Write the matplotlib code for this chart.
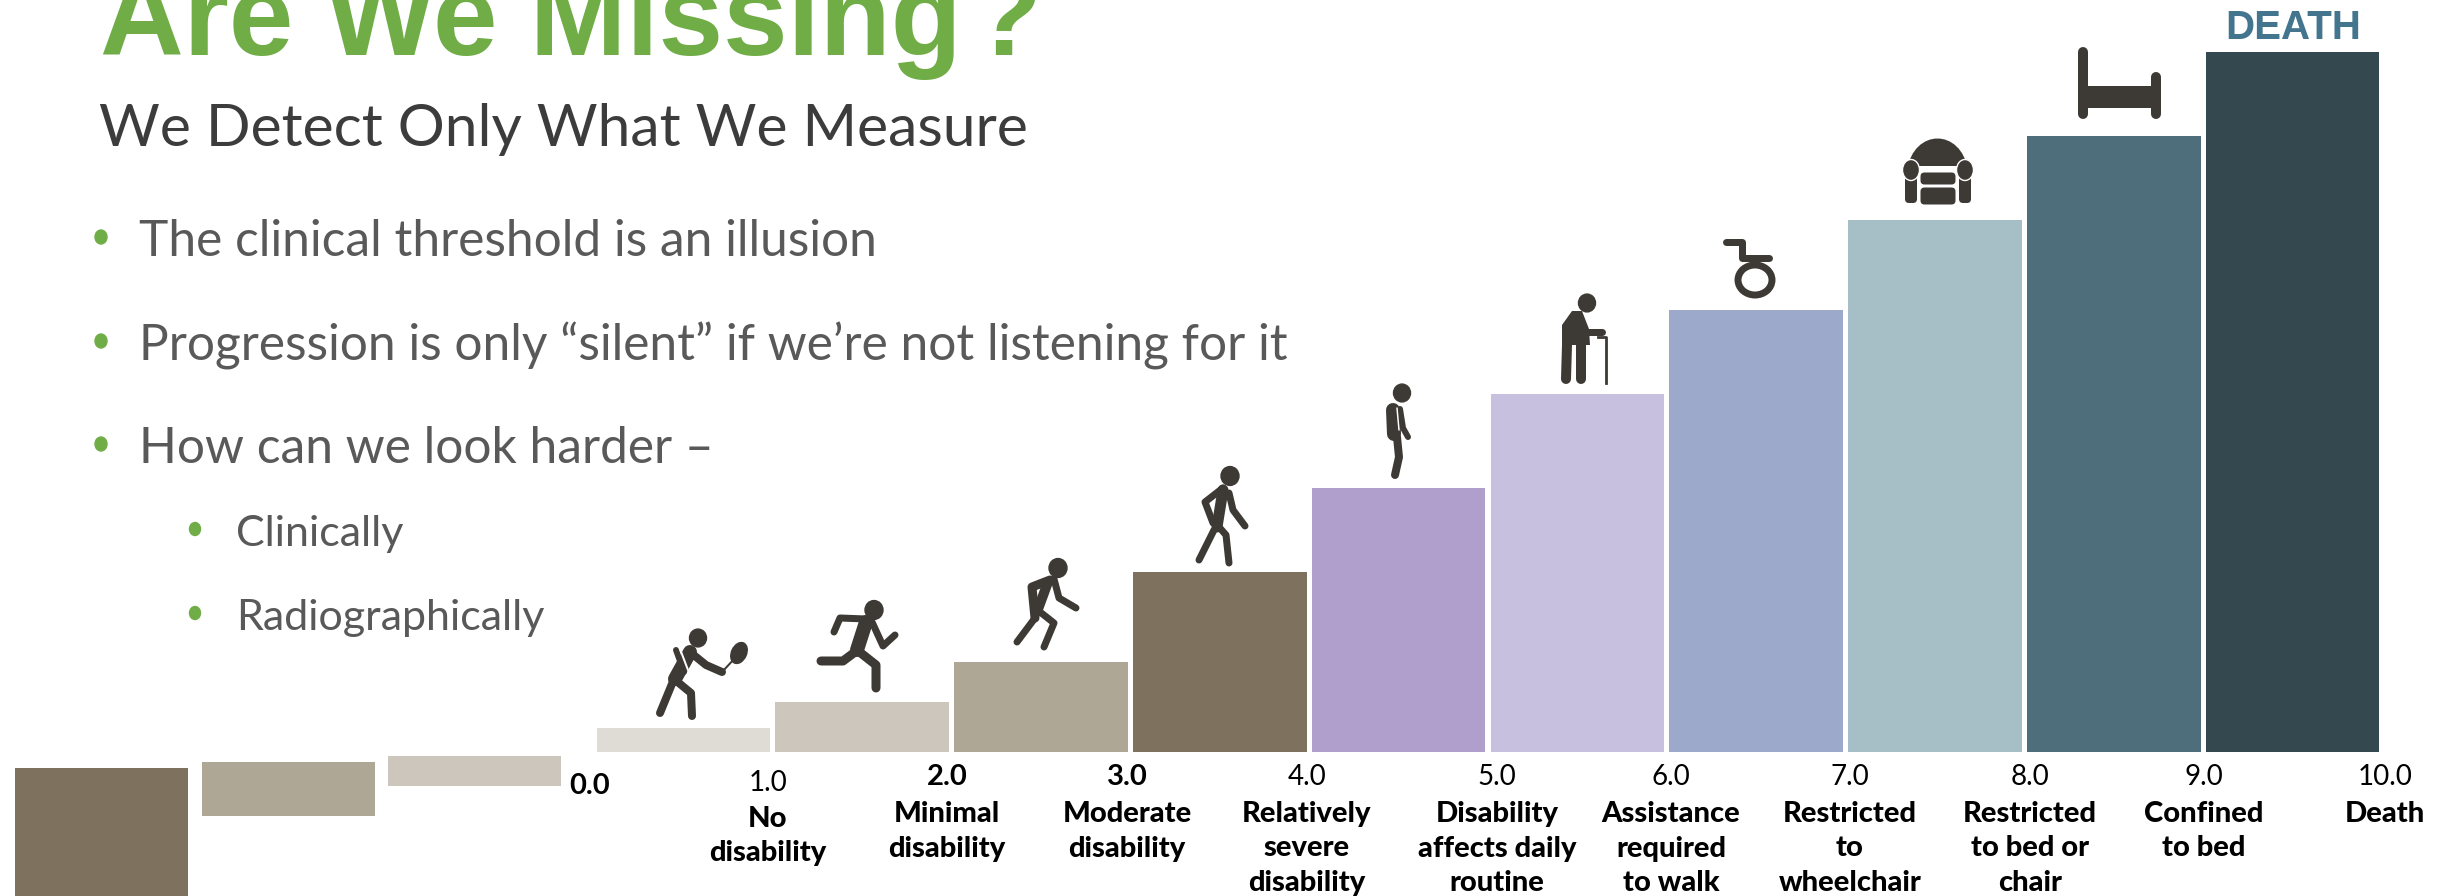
import matplotlib
matplotlib.use("Agg")
import matplotlib.pyplot as plt
from matplotlib.patches import Ellipse, FancyBboxPatch, PathPatch, Polygon, Rectangle
from matplotlib.path import Path

W, H = 2438, 896
BODY = "Lato"
DARK = "#3d3935"
GREEN = "#70AD47"

# disability steps, bar height on a 0-10 scale
heights = [0.34, 0.71, 1.29, 2.57, 3.77, 5.11, 6.31, 7.60, 8.80, 10.0]
bar_colors = ["#DEDCD5", "#CCC6BC", "#AFA796", "#7E725E", "#B09FCD",
              "#C8C0DF", "#9CA9CB", "#A6BEC5", "#4E6E7B", "#34494F"]

# leftover bars at lower left of the slide
left_bars_x = [101, 288, 474]
left_bars_top = [768, 762, 756]
left_bars_h = [128, 54, 30]
left_bars_colors = ["#7E725E", "#AFA796", "#CCC6BC"]

tick_text = ["0.0", "1.0", "2.0", "3.0", "4.0", "5.0", "6.0", "7.0", "8.0", "9.0", "10.0"]
tick_x = [590, 768, 947, 1127, 1307, 1497, 1671, 1850, 2030, 2204, 2385]
tick_y = [794, 791, 785, 785, 785, 785, 785, 785, 785, 785, 785]
tick_bold = [True, False, True, True, False, False, False, False, False, False, False]

level_names = [
    ["No", "disability"],
    ["Minimal", "disability"],
    ["Moderate", "disability"],
    ["Relatively", "severe", "disability"],
    ["Disability", "affects daily", "routine"],
    ["Assistance", "required", "to walk"],
    ["Restricted", "to", "wheelchair"],
    ["Restricted", "to bed or", "chair"],
    ["Confined", "to bed"],
    ["Death"],
]

bullets = ["The clinical threshold is an illusion",
           "Progression is only \u201csilent\u201d if we\u2019re not listening for it",
           "How can we look harder \u2013"]
bullet_y = [256, 360, 463]
sub_bullets = ["Clinically", "Radiographically"]
sub_bullet_y = [546, 630]

fig = plt.figure(figsize=(W / 100, H / 100), dpi=100, facecolor="white")

# bars
ax = fig.add_axes([594 / W, (H - 752) / H, 1788 / W, 700 / H])
ax.bar(range(10), heights, width=0.97, color=bar_colors)
ax.set_xlim(-0.5, 9.5)
ax.set_ylim(0, 10)
ax.axis("off")

# everything else in pixel coordinates
pg = fig.add_axes([0, 0, 1, 1])
pg.set_xlim(0, W)
pg.set_ylim(H, 0)
pg.axis("off")
pg.patch.set_alpha(0)

pg.bar(left_bars_x, left_bars_h, width=173, bottom=left_bars_top, color=left_bars_colors)

pg.text(100, 55, "Are We Missing\u200a?", family="Liberation Sans", weight="bold",
        fontsize=83.5, color=GREEN, va="baseline")
pg.text(99, 146, "We Detect Only What We Measure", family=BODY, fontsize=42.3,
        color="#3c3c3c", va="baseline")

for t, y in zip(bullets, bullet_y):
    pg.text(139, y, t, family=BODY, fontsize=35.7, color="#595959", va="baseline")
    pg.add_patch(Ellipse((101, y - 19), 12, 14, color=GREEN))
for t, y in zip(sub_bullets, sub_bullet_y):
    pg.text(236, y, t, family=BODY, fontsize=31, color="#595959", va="baseline")
    pg.add_patch(Ellipse((195, y - 17), 11, 13, color=GREEN))

for t, x, y, b in zip(tick_text, tick_x, tick_y, tick_bold):
    pg.text(x, y, t, family=BODY, fontsize=21 if b else 20, weight="bold" if b else "normal",
            color="black", ha="center", va="baseline")

for i, lines in enumerate(level_names):
    x = tick_x[i + 1]
    y0 = 827 if i == 0 else 822
    for k, line in enumerate(lines):
        pg.text(x, y0 + k * 34.5, line, family=BODY, fontsize=21, weight=900,
                color="black", ha="center", va="baseline")

pg.text(2293, 39, "DEATH", family="Liberation Sans", weight="bold", fontsize=29,
        color="#44758F", ha="center", va="baseline")


def stroke(pts, lw, color=DARK):
    xs, ys = zip(*pts)
    pg.plot(xs, ys, color=color, lw=lw * 0.72, solid_capstyle="round", solid_joinstyle="round")


def head(x, y, r=8.5):
    pg.add_patch(Ellipse((x, y), r * 2, r * 2.1, color=DARK))


# tennis
head(698, 638)
stroke([(690, 652), (675, 679)], 14)
stroke([(674, 679), (660, 713)], 8)
stroke([(674, 679), (691, 693), (692, 716)], 8)
stroke([(690, 652), (706, 665), (722, 672)], 8)
stroke([(722, 672), (736, 657)], 2)
pg.add_patch(Ellipse((739, 653), 15, 22, angle=25, color=DARK))
stroke([(676, 650), (684, 672)], 6)
stroke([(680, 649), (688, 670)], 2, "white")

# runner
head(874, 610, 9)
stroke([(866, 622), (857, 650)], 14)
stroke([(866, 619), (840, 618), (834, 632)], 7)
stroke([(872, 622), (883, 646), (895, 635)], 7)
stroke([(855, 652), (843, 661), (821, 661)], 9)
stroke([(857, 650), (876, 665), (876, 688)], 9)

# jogger
head(1058, 568, 9)
stroke([(1050, 580), (1032, 587), (1035, 618)], 9)
stroke([(1048, 582), (1037, 612)], 10)
stroke([(1054, 579), (1059, 598), (1076, 608)], 7)
stroke([(1035, 618), (1017, 642)], 7)
stroke([(1035, 608), (1054, 623), (1044, 647)], 7)

# walker
head(1230, 476, 9)
stroke([(1223, 490), (1217, 527)], 11)
stroke([(1223, 488), (1205, 502), (1213, 523)], 7)
stroke([(1229, 493), (1233, 510), (1245, 526)], 7)
stroke([(1214, 530), (1199, 560)], 7)
stroke([(1219, 527), (1226, 535), (1229, 563)], 7)

# stooped
head(1402, 393, 8.5)
stroke([(1393, 410), (1394, 434)], 14)
stroke([(1400, 409), (1403, 428), (1408, 437)], 6)
stroke([(1397, 408), (1399, 430)], 1.5, "white")
stroke([(1397, 437), (1399, 457), (1395, 475)], 8)

# cane
head(1587, 303, 8.5)
pg.add_patch(Polygon([(1572, 311), (1582, 311), (1589, 329), (1590, 345), (1562, 345), (1562, 325)],
                     fc=DARK, ec="none"))
stroke([(1586, 332), (1602, 332)], 7)
stroke([(1567, 345), (1566, 379)], 10)
stroke([(1581, 345), (1581, 379)], 10)
pg.plot([1598, 1606, 1606], [337, 337, 383], color=DARK, lw=2)

# wheelchair
pg.add_patch(Ellipse((1755, 280), 34, 30, fill=False, ec=DARK, lw=5))
stroke([(1726, 242), (1742, 242), (1742, 258), (1769, 258)], 7)

# armchair
dome = Path([(1907, 170), (1914, 128), (1961, 128), (1968, 170), (1907, 170)],
            [Path.MOVETO, Path.CURVE4, Path.CURVE4, Path.CURVE4, Path.CLOSEPOLY])
pg.add_patch(PathPatch(dome, fc=DARK, ec="none"))
pg.add_patch(Rectangle((1915, 166), 45, 7, fc="white", ec="none"))
for cx in (1911, 1965):
    pg.add_patch(FancyBboxPatch((cx - 5, 175), 10, 27, boxstyle="round,pad=1,rounding_size=4",
                                fc=DARK, ec="none"))
    pg.add_patch(Ellipse((cx, 170), 17, 21, fc=DARK, ec="white", lw=1))
for y0, h in ((174, 9), (189, 14)):
    pg.add_patch(FancyBboxPatch((1922, y0), 32, h, boxstyle="round,pad=1.5,rounding_size=4",
                                fc=DARK, ec="none"))

# bed
stroke([(2083, 52), (2083, 114)], 10)
stroke([(2156, 77), (2156, 114)], 10)
pg.add_patch(Rectangle((2083, 86), 73, 22, fc=DARK, ec="none"))

fig.savefig("out.png", dpi=100)
